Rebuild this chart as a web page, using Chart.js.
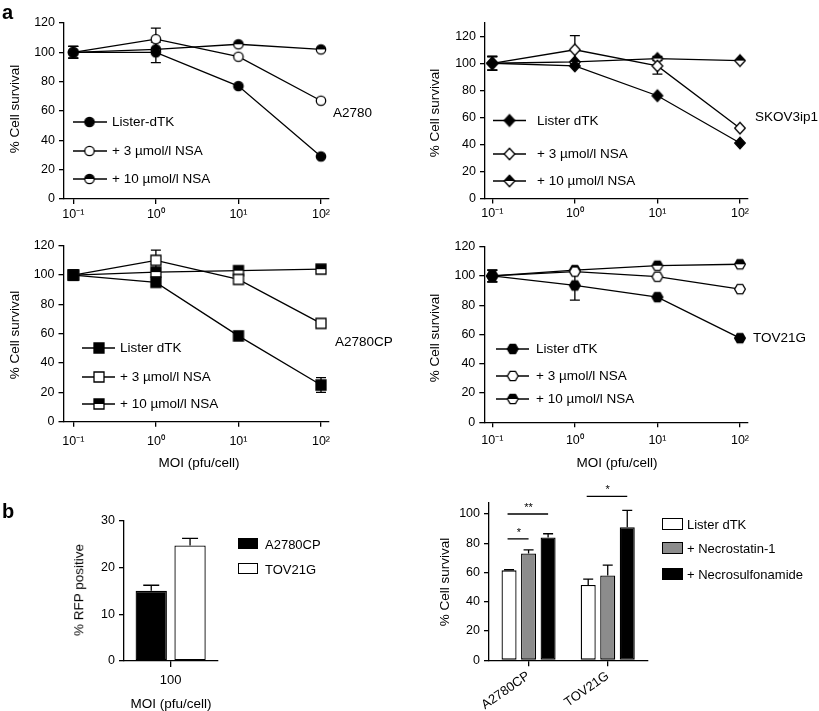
<!DOCTYPE html>
<html><head><meta charset="utf-8">
<script src="https://cdn.jsdelivr.net/npm/chart.js@4.4.0/dist/chart.umd.min.js"></script>
<style>
body{margin:0;background:#fff;width:819px;height:711px;position:relative;overflow:hidden;font-family:"Liberation Sans",Arial,Helvetica,sans-serif;color:#000}
canvas{position:absolute}
.t{position:absolute;white-space:nowrap;font-size:13.5px;line-height:1}
.l{transform:translateY(-50%)}
.c{transform:translate(-50%,-50%)}
.v{transform:translate(-50%,-50%) rotate(-90deg)}
.big{font-weight:bold;font-size:20px}
.sw{position:absolute;box-sizing:border-box;border:1.3px solid #000}
</style></head><body>
<canvas id="c1" width="410" height="225" style="left:0;top:0"></canvas>
<canvas id="c2" width="409" height="225" style="left:410px;top:0"></canvas>
<canvas id="c3" width="410" height="250" style="left:0;top:225px"></canvas>
<canvas id="c4" width="409" height="250" style="left:410px;top:225px"></canvas>
<canvas id="c5" width="410" height="236" style="left:0;top:475px"></canvas>
<canvas id="c6" width="409" height="236" style="left:410px;top:475px"></canvas>

<div class="t big" style="left:2px;top:2px">a</div>
<div class="t big" style="left:2px;top:501px">b</div>

<div class="t v" style="left:15px;top:109px">% Cell survival</div>
<div class="t v" style="left:435px;top:113px">% Cell survival</div>
<div class="t v" style="left:15px;top:335px">% Cell survival</div>
<div class="t v" style="left:435px;top:338px">% Cell survival</div>
<div class="t v" style="left:79px;top:590px">% RFP positive</div>
<div class="t v" style="left:445px;top:582px">% Cell survival</div>

<div class="t l" style="left:333px;top:113px">A2780</div>
<div class="t l" style="left:755px;top:117px">SKOV3ip1</div>
<div class="t l" style="left:335px;top:342px">A2780CP</div>
<div class="t l" style="left:753px;top:338px">TOV21G</div>

<div class="t c" style="left:199px;top:463px">MOI (pfu/cell)</div>
<div class="t c" style="left:617px;top:463px">MOI (pfu/cell)</div>
<div class="t c" style="left:171px;top:704px">MOI (pfu/cell)</div>

<div class="sw" style="left:238px;top:538px;width:20px;height:11px;background:#000"></div>
<div class="t l" style="left:265px;top:543.5px;font-size:13px">A2780CP</div>
<div class="sw" style="left:238px;top:563px;width:20px;height:11px;background:#fff"></div>
<div class="t l" style="left:265px;top:568.5px;font-size:13px">TOV21G</div>

<div class="sw" style="left:662px;top:518px;width:21px;height:11.5px;background:#fff"></div>
<div class="t l" style="left:687px;top:523.5px;font-size:13px">Lister dTK</div>
<div class="sw" style="left:662px;top:542px;width:21px;height:11.5px;background:#8c8c8c"></div>
<div class="t l" style="left:687px;top:547.5px;font-size:13px">+ Necrostatin-1</div>
<div class="sw" style="left:662px;top:568px;width:21px;height:11.5px;background:#000"></div>
<div class="t l" style="left:687px;top:573.5px;font-size:13px">+ Necrosulfonamide</div>

<script>
// ---------------- DATA ----------------
const moi = [0.1, 1, 10, 100];
const moiTickValues = [0.1, 1, 10, 100];
const moiTickLabels = ['10\u207B\u00B9', '10\u2070', '10\u00B9', '10\u00B2'];
const survivalTicks = [0, 20, 40, 60, 80, 100, 120];

const labelsA2780 = ['Lister-dTK', '+ 3 \u00B5mol/l NSA', '+ 10 \u00B5mol/l NSA'];
const labelsOther = ['Lister dTK', '+ 3 \u00B5mol/l NSA', '+ 10 \u00B5mol/l NSA'];

// A2780
const a2780Lister = [100, 100, 77, 29];
const a2780ListerErr = [4, 7, 0, 0];
const a2780Nsa3 = [100, 109, 97, 67];
const a2780Nsa3Err = [4, 7.5, 0, 0];
const a2780Nsa10 = [100, 102, 105.5, 102];
const a2780Nsa10Err = [4, 0, 0, 0];

// SKOV3ip1
const skovLister = [100, 98, 76, 41];
const skovListerErr = [5, 0, 0, 0];
const skovNsa3 = [100, 110, 98, 52];
const skovNsa3Err = [5, 10.5, 6, 0];
const skovNsa10 = [100, 101, 103.5, 102];
const skovNsa10Err = [5, 0, 1.5, 0];

// A2780CP
const cpLister = [100, 95, 58.5, 25];
const cpListerErr = [2, 0, 0, 5];
const cpNsa3 = [100, 110, 97, 67];
const cpNsa3Err = [2, 7, 0, 0];
const cpNsa10 = [100, 102, 103, 104];
const cpNsa10Err = [2, 0, 0, 0];

// TOV21G
const tovLister = [100, 93.5, 85.5, 57.5];
const tovListerErr = [4, 10, 0, 0];
const tovNsa3 = [100, 103, 99.5, 91];
const tovNsa3Err = [4, 0, 0, 0];
const tovNsa10 = [100, 104, 107, 108];
const tovNsa10Err = [4, 0, 0, 0];

// Panel b (left)
const rfpCategories = ['100'];
const rfpCellLines = ['A2780CP', 'TOV21G'];
const rfpA2780CP = [15];
const rfpA2780CPErr = [1.2];
const rfpTOV21G = [24.7];
const rfpTOV21GErr = [1.5];
const rfpTicks = [0, 10, 20, 30];

// Panel b (right)
const survCategories = ['A2780CP', 'TOV21G'];
const survTreatments = ['Lister dTK', '+ Necrostatin-1', '+ Necrosulfonamide'];
const survLister = [61.5, 51.5];
const survListerErr = [0.4, 4];
const survNec1 = [73, 58];
const survNec1Err = [2.5, 7];
const survNsa = [84, 91];
const survNsaErr = [2.5, 11.5];
const survBarTicks = [0, 20, 40, 60, 80, 100];
const sigBrackets = [
  {group: 0, from: 0, to: 2, level: 100, label: '**'},
  {group: 0, from: 0, to: 1, level: 83, label: '*'},
  {group: 1, from: 0, to: 2, level: 112, label: '*'}
];

// ---------------- RENDERING ----------------
const FONT = '"Liberation Sans", Arial, Helvetica, sans-serif';
Chart.defaults.font.family = FONT;
Chart.defaults.color = '#000';

function marker(shape, fill) {
  const s = 16, c = document.createElement('canvas');
  c.width = s; c.height = s;
  const g = c.getContext('2d');
  const cx = s / 2, cy = s / 2;
  function path() {
    g.beginPath();
    if (shape === 'circle') g.arc(cx, cy, 4.7, 0, Math.PI * 2);
    else if (shape === 'square') g.rect(cx - 5, cy - 5, 10, 10);
    else if (shape === 'diamond') { g.moveTo(cx, cy - 5.8); g.lineTo(cx + 5.3, cy); g.lineTo(cx, cy + 5.8); g.lineTo(cx - 5.3, cy); g.closePath(); }
    else { const r = 5.4; for (let k = 0; k < 6; k++) { const a = k * Math.PI / 3; const x = cx + r * Math.cos(a), y = cy + r * Math.sin(a); if (k) g.lineTo(x, y); else g.moveTo(x, y); } g.closePath(); }
  }
  path(); g.fillStyle = fill === 'full' ? '#000' : '#fff'; g.fill();
  if (fill === 'half') { g.save(); path(); g.clip(); g.fillStyle = '#000'; g.fillRect(0, 0, s, cy); g.restore(); }
  g.lineWidth = 1.3; g.strokeStyle = '#000'; path(); g.stroke();
  return c;
}
const fills = ['full', 'open', 'half'];

function drawErrors(chart, o) {
  const ctx = chart.ctx, ys = chart.scales.y;
  ctx.save(); ctx.strokeStyle = '#000'; ctx.lineWidth = 1.3;
  chart.data.datasets.forEach((ds, di) => {
    if (!ds.errors) return;
    const meta = chart.getDatasetMeta(di);
    meta.data.forEach((el, j) => {
      const e = ds.errors[j]; if (!e) return;
      const d = ds.data[j]; const v = (typeof d === 'object') ? d.y : d;
      const top = ys.getPixelForValue(v + e);
      const bot = o.dir === 'up' ? ys.getPixelForValue(v) : ys.getPixelForValue(v - e);
      const x = el.x, hw = o.cap / 2;
      ctx.beginPath();
      ctx.moveTo(x, top); ctx.lineTo(x, bot);
      ctx.moveTo(x - hw, top); ctx.lineTo(x + hw, top);
      if (o.dir !== 'up') { ctx.moveTo(x - hw, bot); ctx.lineTo(x + hw, bot); }
      ctx.stroke();
    });
  });
  ctx.restore();
}
const errorBarPlugin = {
  id: 'errbars',
  beforeDatasetsDraw(c, a, o) { if (o.layer === 'below') drawErrors(c, o); },
  afterDatasetsDraw(c, a, o) { if (o.layer === 'above') drawErrors(c, o); }
};
const markerLegendPlugin = {
  id: 'mlegend',
  afterDraw(chart, a, o) {
    const ctx = chart.ctx; ctx.save();
    chart.data.datasets.forEach((ds, i) => {
      const y = o.rows[i];
      ctx.beginPath(); ctx.moveTo(o.x0, y); ctx.lineTo(o.x1, y);
      ctx.lineWidth = 1.3; ctx.strokeStyle = '#000'; ctx.stroke();
      const img = ds.pointStyle;
      ctx.drawImage(img, o.mx - img.width / 2, y - img.height / 2);
      ctx.font = '13.5px ' + FONT; ctx.fillStyle = '#000'; ctx.textBaseline = 'middle';
      ctx.fillText(ds.label, o.tx, y + 0.5);
    });
    ctx.restore();
  }
};
const sigPlugin = {
  id: 'sig',
  afterDatasetsDraw(chart, a, o) {
    const ctx = chart.ctx, ys = chart.scales.y; ctx.save();
    ctx.strokeStyle = '#000'; ctx.lineWidth = 1.3; ctx.fillStyle = '#000';
    ctx.font = '11px ' + FONT; ctx.textAlign = 'center'; ctx.textBaseline = 'middle';
    o.items.forEach(it => {
      const b1 = chart.getDatasetMeta(it.from).data[it.group];
      const b2 = chart.getDatasetMeta(it.to).data[it.group];
      const y = ys.getPixelForValue(it.level);
      ctx.beginPath(); ctx.moveTo(b1.x - 1.5, y); ctx.lineTo(b2.x, y); ctx.stroke();
      ctx.fillText(it.label, (b1.x + b2.x) / 2, y - 6);
    });
    ctx.restore();
  }
};

function axisLook(tickLen) {
  return {
    grid: {drawOnChartArea: false, drawTicks: true, tickLength: tickLen, color: '#000', lineWidth: 1.3},
    border: {display: true, color: '#000', width: 1.3}
  };
}

function linePanel(id, p) {
  const mk = fills.map(f => marker(p.shape, f));
  new Chart(document.getElementById(id), {
    type: 'line',
    data: {
      datasets: p.series.map((s, i) => ({
        label: p.labels[i],
        data: moi.map((x, j) => ({x: x, y: s[j]})),
        errors: p.errors[i],
        borderColor: '#000', backgroundColor: '#000', borderWidth: 1.3,
        pointStyle: mk[i], pointRadius: 5, pointHoverRadius: 5,
        tension: 0, fill: false, clip: false
      }))
    },
    options: {
      responsive: false, animation: false, events: [],
      layout: {padding: {left: 0, top: p.top, right: p.right, bottom: 0}},
      plugins: {
        legend: {display: false}, tooltip: {enabled: false},
        errbars: {layer: 'below', cap: 10, dir: 'both'},
        mlegend: p.legend
      },
      scales: {
        x: Object.assign({
          type: 'logarithmic', min: p.xmin, max: p.xmax, bounds: 'data',
          afterBuildTicks: ax => { ax.ticks = moiTickValues.map(v => ({value: v})); },
          afterFit: ax => { ax.height = p.xh; },
          ticks: {autoSkip: false, maxRotation: 0, minRotation: 0, padding: p.xpad, font: {size: 12.5}, color: '#000',
                  callback: v => { const k = moiTickValues.indexOf(v); return k >= 0 ? moiTickLabels[k] : ''; }}
        }, axisLook(5)),
        y: Object.assign({
          type: 'linear', min: 0, max: p.ymax, bounds: 'data',
          afterBuildTicks: ax => { ax.ticks = survivalTicks.map(v => ({value: v})); },
          afterFit: ax => { ax.width = p.yw; },
          ticks: {autoSkip: false, padding: 4, font: {size: 12.5}, color: '#000'}
        }, axisLook(5))
      }
    },
    plugins: [errorBarPlugin, markerLegendPlugin]
  });
}

linePanel('c1', {
  shape: 'circle', labels: labelsA2780,
  series: [a2780Lister, a2780Nsa3, a2780Nsa10], errors: [a2780ListerErr, a2780Nsa3Err, a2780Nsa10Err],
  xmin: 0.0772, xmax: 125, ymax: 120, yw: 64, xh: 26, top: 23, right: 81, xpad: 3,
  legend: {x0: 73, x1: 107, mx: 89.5, tx: 112, rows: [122, 151, 179]}
});
linePanel('c2', {
  shape: 'diamond', labels: labelsOther,
  series: [skovLister, skovNsa3, skovNsa10], errors: [skovListerErr, skovNsa3Err, skovNsa10Err],
  xmin: 0.0816, xmax: 125, ymax: 130, yw: 75, xh: 26.5, top: 22.7, right: 71, xpad: 3,
  legend: {x0: 83, x1: 116, mx: 99.5, tx: 127, rows: [120.5, 154, 181]}
});
linePanel('c3', {
  shape: 'square', labels: labelsOther,
  series: [cpLister, cpNsa3, cpNsa10], errors: [cpListerErr, cpNsa3Err, cpNsa10Err],
  xmin: 0.076, xmax: 125, ymax: 120, yw: 63.5, xh: 53.3, top: 20.7, right: 81, xpad: 7,
  legend: {x0: 82, x1: 115, mx: 99, tx: 120, rows: [123, 152, 179]}
});
linePanel('c4', {
  shape: 'hexagon', labels: labelsOther,
  series: [tovLister, tovNsa3, tovNsa10], errors: [tovListerErr, tovNsa3Err, tovNsa10Err],
  xmin: 0.08, xmax: 125, ymax: 120, yw: 74.3, xh: 52.7, top: 21.7, right: 71, xpad: 6,
  legend: {x0: 86, x1: 119, mx: 102.7, tx: 126, rows: [124, 151, 174]}
});

function barPanel(id, p) {
  new Chart(document.getElementById(id), {
    type: 'bar',
    data: {
      labels: p.categories,
      datasets: p.series.map((s, i) => ({
        label: p.names[i], data: s, errors: p.errors[i],
        backgroundColor: p.colors[i], borderColor: '#000', borderWidth: 1.3, borderSkipped: false,
        categoryPercentage: p.catPct, barPercentage: p.barPct
      }))
    },
    options: {
      responsive: false, animation: false, events: [],
      layout: {padding: {left: 0, top: p.top, right: p.right, bottom: 0}},
      plugins: {
        legend: {display: false}, tooltip: {enabled: false},
        errbars: {layer: 'above', cap: p.cap, dir: 'up'},
        sig: {items: p.sig || []}
      },
      scales: {
        x: Object.assign({
          type: 'category', offset: true,
          afterFit: ax => { ax.height = p.xh; },
          ticks: {autoSkip: false, padding: p.xpad, minRotation: p.rot, maxRotation: p.rot, font: {size: 13}, color: '#000'}
        }, axisLook(6), {grid: {offset: false, drawOnChartArea: false, drawTicks: true, tickLength: 6, color: '#000', lineWidth: 1.3}}),
        y: Object.assign({
          type: 'linear', min: 0, max: p.ymax, bounds: 'data',
          afterBuildTicks: ax => { ax.ticks = p.yticks.map(v => ({value: v})); },
          afterFit: ax => { ax.width = p.yw; },
          ticks: {autoSkip: false, padding: 4, font: {size: 12.5}, color: '#000'}
        }, axisLook(5))
      }
    },
    plugins: [errorBarPlugin, sigPlugin]
  });
}

barPanel('c5', {
  categories: rfpCategories, names: rfpCellLines,
  series: [rfpA2780CP, rfpTOV21G], errors: [rfpA2780CPErr, rfpTOV21GErr],
  colors: ['#000', '#fff'], catPct: 0.832, barPct: 0.807, cap: 16,
  ymax: 30, yticks: rfpTicks, yw: 124, xh: 50, top: 45.7, right: 192.7, xpad: 6, rot: 0
});
barPanel('c6', {
  categories: survCategories, names: survTreatments,
  series: [survLister, survNec1, survNsa], errors: [survListerErr, survNec1Err, survNsaErr],
  colors: ['#fff', '#8c8c8c', '#000'], catPct: 0.74, barPct: 0.77, cap: 10,
  ymax: 108, yticks: survBarTicks, yw: 79, xh: 50.7, top: 27.3, right: 171.7, xpad: 2, rot: 35,
  sig: sigBrackets
});
</script>
</body></html>
